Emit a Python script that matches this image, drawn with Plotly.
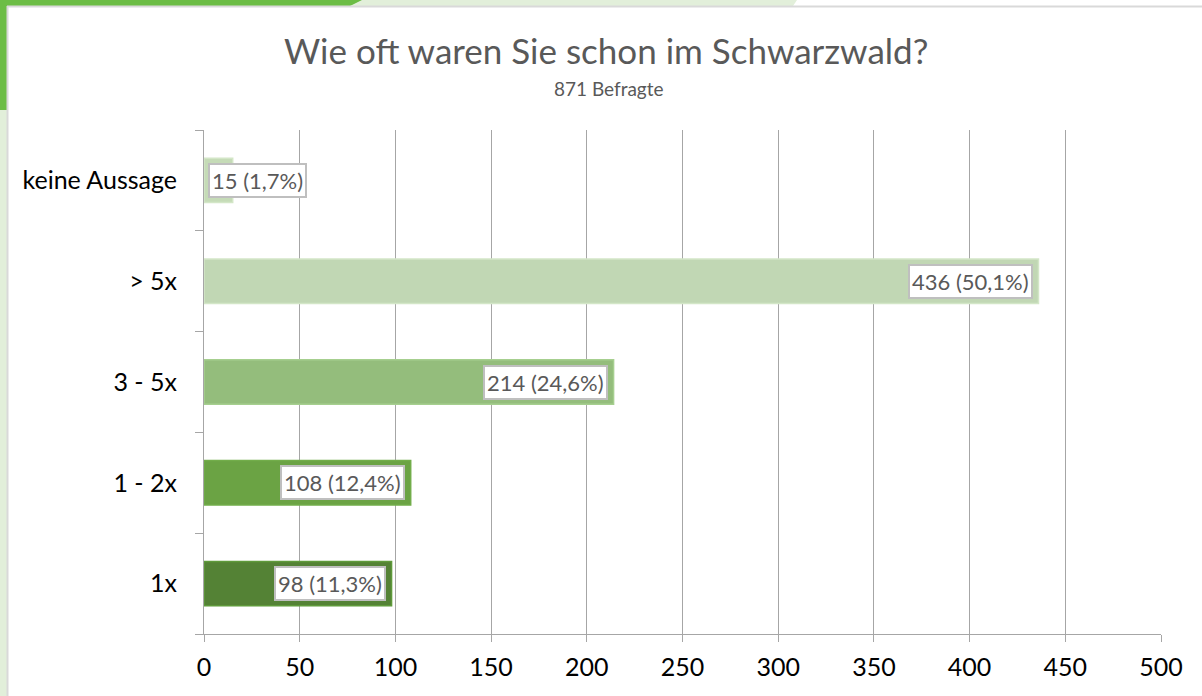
import plotly.graph_objects as go

categories = ["1x", "1 - 2x", "3 - 5x", "> 5x", "keine Aussage"]
counts = [98, 108, 214, 436, 15]
percent_labels = ["11,3%", "12,4%", "24,6%", "50,1%", "1,7%"]
x_ticks = [0, 50, 100, 150, 200, 250, 300, 350, 400, 450, 500]

bar_colors = ["#548235", "#6ba344", "#94bd7c", "#c1d7b4", "#c5dbb7"]
bar_lines = ["#5f9a3b", "#72ad4a", "#a6cf8f", "#d3e6c7", "#d3e6c7"]

W, H = 1202, 696
ML, MR, MT, MB = 204, 41, 130, 62
PW, PH = W - ML - MR, H - MT - MB
FONT = "Lato"


def px2x(px):
    return (px - ML) / PW


def px2y(py):
    return (H - MB - py) / PH


fig = go.Figure()
fig.add_trace(go.Bar(
    y=categories, x=counts, orientation="h",
    marker=dict(color=bar_colors, line=dict(color=bar_lines, width=1.5)),
    width=0.44, hoverinfo="skip", showlegend=False,
))

# value labels in boxes
for cat, v, p in zip(categories, counts, percent_labels):
    small = v < 60
    fig.add_annotation(
        x=0 if small else v, y=cat, xref="x", yref="y",
        text=f"{v} ({p})", showarrow=False,
        xanchor="left" if small else "right",
        xshift=4 if small else -6,
        font=dict(family=FONT, size=22, color="#595959"),
        bgcolor="white", bordercolor="#bfbfbf", borderwidth=2, borderpad=2,
    )

# title and subtitle
fig.add_annotation(x=px2x(606), y=px2y(50), xref="paper", yref="paper",
                   text="Wie oft waren Sie schon im Schwarzwald?", showarrow=False,
                   font=dict(family=FONT, size=35, color="#595959"), xanchor="center", yanchor="middle")
fig.add_annotation(x=px2x(609), y=px2y(88), xref="paper", yref="paper",
                   text="871 Befragte", showarrow=False,
                   font=dict(family=FONT, size=19, color="#595959"), xanchor="center", yanchor="middle")

# slide decoration
shapes = [
    dict(type="rect", x0=px2x(0), x1=px2x(7), y0=px2y(696), y1=px2y(0), fillcolor="#e2efda", line_width=0, layer="below"),
    dict(type="rect", x0=px2x(0), x1=px2x(7), y0=px2y(110), y1=px2y(0), fillcolor="#6cbd45", line_width=0, layer="below"),
    dict(type="path", path=f"M {px2x(345)} {px2y(0)} L {px2x(797)} {px2y(0)} L {px2x(793)} {px2y(6)} L {px2x(350)} {px2y(6)} Z",
         fillcolor="#e2efda", line_width=0, layer="below"),
    dict(type="path", path=f"M {px2x(0)} {px2y(0)} L {px2x(362)} {px2y(0)} L {px2x(350)} {px2y(6)} L {px2x(0)} {px2y(6)} Z",
         fillcolor="#6cbd45", line_width=0, layer="below"),
    dict(type="line", x0=px2x(7), x1=px2x(1202), y0=px2y(6.5), y1=px2y(6.5), line=dict(color="#d9d9d9", width=2), layer="below"),
    dict(type="line", x0=px2x(7.5), x1=px2x(7.5), y0=px2y(6), y1=px2y(696), line=dict(color="#d9d9d9", width=2), layer="below"),
]
for s in shapes:
    s.setdefault("xref", "paper")
    s.setdefault("yref", "paper")
fig.update_layout(shapes=shapes)

fig.update_layout(
    width=W, height=H,
    margin=dict(l=ML, r=MR, t=MT, b=MB, pad=0, autoexpand=False),
    paper_bgcolor="white", plot_bgcolor="white",
    font=dict(family=FONT, color="#000000"),
    bargap=0.56,
    xaxis=dict(
        range=[0, 500], tickvals=x_ticks, ticktext=[str(t) for t in x_ticks],
        showgrid=True, gridcolor="#a6a6a6", gridwidth=1,
        showline=True, linecolor="#a6a6a6", linewidth=1,
        ticks="outside", ticklen=7, tickcolor="#a6a6a6",
        tickfont=dict(family=FONT, size=25, color="#000000"),
        ticklabelstandoff=4,
        zeroline=False, fixedrange=True,
    ),
    yaxis=dict(
        categoryorder="array", categoryarray=categories,
        range=[-0.5, 4.5],
        showline=True, linecolor="#a6a6a6", linewidth=1,
        ticks="outside", ticklen=8, tickcolor="#a6a6a6", tickson="boundaries",
        showgrid=False,
        tickfont=dict(family=FONT, size=25, color="#000000"),
        ticklabelstandoff=21, fixedrange=True,
    ),
)

fig.write_html("out.html", config={"displayModeBar": False},
               post_script="document.body.style.margin='0';document.body.style.overflow='hidden';")
